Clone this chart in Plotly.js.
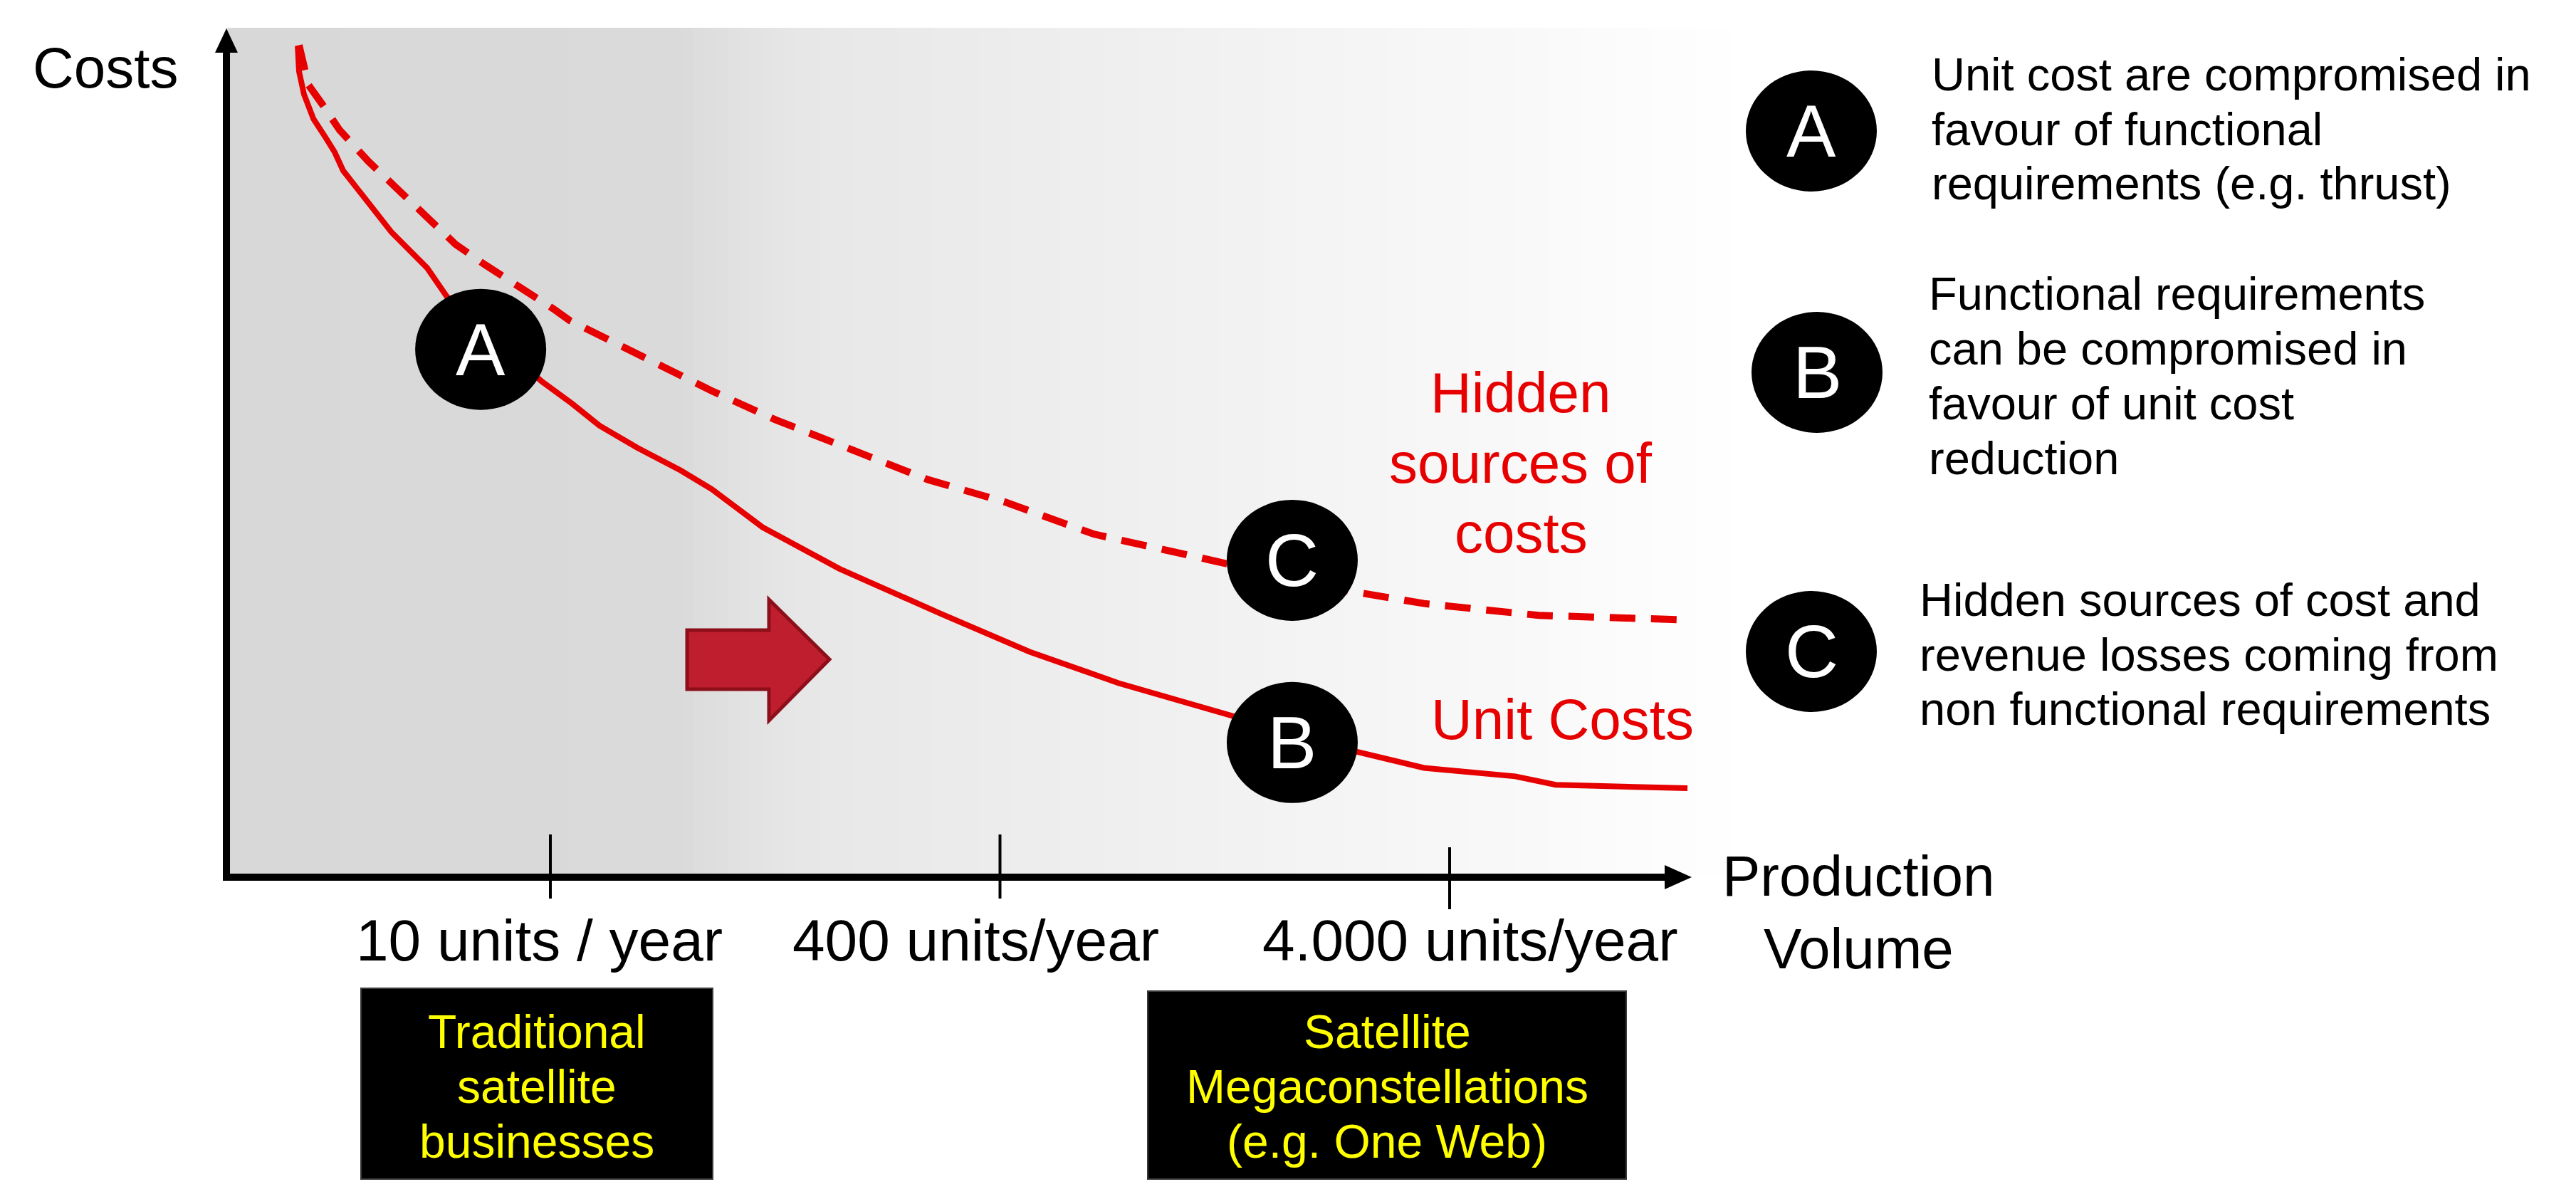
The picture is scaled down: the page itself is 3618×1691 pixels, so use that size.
<!DOCTYPE html>
<html>
<head>
<meta charset="utf-8">
<script src="https://cdn.plot.ly/plotly-3.0.1.min.js"></script>
<style>
  body { margin: 0; background: #fff; }
  #chart { width: 3618px; height: 1691px; }
</style>
</head>
<body>
<div id="chart"></div>
<script>
// schematic production volume axis: 1, 2, 3 are the labelled volumes
const tickPos = [1, 2, 3];
const tickLabels = ['10 units / year', '400 units/year', '4.000 units/year'];

// unit costs (solid)
const unitX = [0.438, 0.441, 0.452, 0.473, 0.500, 0.520, 0.539, 0.579, 0.647, 0.726, 0.770,
               0.981, 1.048, 1.109, 1.193, 1.290, 1.359, 1.472, 1.643, 1.868, 2.066, 2.264,
               2.504, 2.794, 2.943, 3.146, 3.236, 3.529];
const unitY = [98.1, 95.1, 92.4, 89.5, 87.3, 85.6, 83.4, 80.6, 76.1, 71.9, 68.5,
               58.5, 55.9, 53.3, 50.7, 48.0, 45.8, 41.3, 36.4, 31.1, 26.6, 22.9,
               19.2, 14.8, 12.9, 11.9, 10.9, 10.5];

// unit costs + hidden sources of costs (dashed)
const hiddenX = [0.441, 0.462, 0.493, 0.531, 0.595, 0.663, 0.726, 0.789, 0.857, 0.932, 1.006,
                 1.043, 1.279, 1.359, 1.500, 1.643, 1.841, 2.010, 2.208, 2.462, 2.774, 2.943,
                 3.198, 3.508];
const hiddenY = [98.2, 93.5, 91.2, 88.2, 84.5, 81.1, 78.1, 74.7, 72.2, 69.7, 67.1,
                 65.7, 59.4, 57.4, 54.0, 51.0, 46.9, 44.3, 40.5, 37.5, 33.8, 32.3,
                 30.9, 30.4];

const calloutLabels = ['A', 'C', 'B'];
const seriesLabels = [['Hidden', 'sources of', 'costs'], ['Unit Costs']];
const businessBoxes = [['Traditional', 'satellite', 'businesses'],
                       ['Satellite', 'Megaconstellations', '(e.g. One Web)']];
const notes = [
  ['Unit cost are compromised in', 'favour of functional', 'requirements (e.g. thrust)'],
  ['Functional requirements', 'can be compromised in', 'favour of unit cost', 'reduction'],
  ['Hidden sources of cost and', 'revenue losses coming from', 'non functional requirements']
];

// ---- layout helpers (pixel -> paper) ----
const FONT = 'Liberation Sans, Arial, Helvetica, sans-serif';
const RED = '#e60000';
const L = 318, R = 2400, T = 30, B = 1232;
const px = x => (x - L) / (R - L);
const py = y => (B - y) / (B - T);

const shapes = [];
const annotations = [];

function label(text, x, y, size, color, anchor) {
  annotations.push({
    xref: 'paper', yref: 'paper', x: px(x), y: py(y), text: text,
    showarrow: false, xanchor: anchor || 'center', yanchor: 'middle',
    font: {family: FONT, size: size, color: color || '#000'}
  });
}

// grey background fading to white
const stops = [[318, 216], [950, 218], [1020, 224], [1120, 231], [1400, 236],
               [1800, 243], [2150, 249], [2450, 255]];
function greyAt(x) {
  for (let i = 1; i < stops.length; i++) {
    if (x <= stops[i][0]) {
      const a = stops[i - 1], b = stops[i];
      return Math.round(a[1] + (b[1] - a[1]) * (x - a[0]) / (b[0] - a[0]));
    }
  }
  return 255;
}
for (let x = 318; x < 2450; x += 16) {
  const g = greyAt(x + 8);
  shapes.push({type: 'rect', xref: 'paper', yref: 'paper', layer: 'below',
    x0: px(x), x1: px(x + 17), y0: py(1232), y1: py(39),
    line: {width: 0}, fillcolor: `rgb(${g},${g},${g})`});
}

// axes with arrow heads
shapes.push({type: 'line', xref: 'paper', yref: 'paper', x0: px(318), x1: px(318),
  y0: py(1237), y1: py(68), line: {color: '#000', width: 10}});
shapes.push({type: 'path', xref: 'paper', yref: 'paper',
  path: `M ${px(302)} ${py(74)} L ${px(318)} ${py(40)} L ${px(334)} ${py(74)} Z`,
  fillcolor: '#000', line: {width: 0}});
shapes.push({type: 'line', xref: 'paper', yref: 'paper', x0: px(313), x1: px(2342),
  y0: py(1232), y1: py(1232), line: {color: '#000', width: 10}});
shapes.push({type: 'path', xref: 'paper', yref: 'paper',
  path: `M ${px(2338)} ${py(1215)} L ${px(2376)} ${py(1232)} L ${px(2338)} ${py(1249)} Z`,
  fillcolor: '#000', line: {width: 0}});

// tick marks across the x axis
const tickSpan = [[1172, 1262], [1172, 1262], [1190, 1277]];
const tickShift = [-16, -34, 29];
tickPos.forEach((t, i) => {
  shapes.push({type: 'line', xref: 'x', yref: 'paper', x0: t, x1: t,
    y0: py(tickSpan[i][1]), y1: py(tickSpan[i][0]), line: {color: '#000', width: 4}});
  annotations.push({xref: 'x', yref: 'paper', x: t, y: py(1320), xshift: tickShift[i],
    text: tickLabels[i], showarrow: false, xanchor: 'center', yanchor: 'middle',
    font: {family: FONT, size: 82, color: '#000'}});
});

// axis titles
label('Costs', 148, 96, 80);
label('Production', 2610, 1230, 80);
label('Volume', 2610, 1332, 80);

// red arrow
const arrowPts = [[965, 885], [1080, 885], [1080, 842], [1165, 926], [1080, 1012], [1080, 968], [965, 968]];
shapes.push({type: 'path', xref: 'paper', yref: 'paper',
  path: 'M ' + arrowPts.map(p => `${px(p[0])} ${py(p[1])}`).join(' L ') + ' Z',
  fillcolor: '#be1e2d', line: {color: '#8c0f1a', width: 5}});

// callouts on the curves
const calloutAt = [[0.845, 62.3], [2.650, 37.4], [2.650, 15.9]];
calloutLabels.forEach((c, i) => {
  shapes.push({type: 'circle', xref: 'x', yref: 'y', xsizemode: 'pixel', ysizemode: 'pixel',
    xanchor: calloutAt[i][0], yanchor: calloutAt[i][1], x0: -92, x1: 92, y0: -85, y1: 85,
    fillcolor: '#000', line: {width: 0}});
  annotations.push({xref: 'x', yref: 'y', x: calloutAt[i][0], y: calloutAt[i][1], text: c,
    showarrow: false, xanchor: 'center', yanchor: 'middle',
    font: {family: FONT, size: 104, color: '#fff'}});
});

// series labels
seriesLabels[0].forEach((t, i) => label(t, 2136, 552 + i * 98, 80, RED));
label(seriesLabels[1][0], 2194, 1011, 80, RED);

// business boxes under the axis
const boxRects = [[507, 1388, 1001, 1656], [1612, 1392, 2284, 1656]];
businessBoxes.forEach((lines, i) => {
  const b = boxRects[i];
  shapes.push({type: 'rect', xref: 'paper', yref: 'paper',
    x0: px(b[0]), x1: px(b[2]), y0: py(b[3]), y1: py(b[1]),
    fillcolor: '#000', line: {color: '#3a3a3a', width: 2}});
  const cx = (b[0] + b[2]) / 2;
  lines.forEach((t, j) => label(t, cx, 1449 + j * 77, 66, '#ffff00'));
});

// notes on the right
const noteCircle = [[2544, 184], [2552, 523], [2544, 915]];
const noteText = [[2711, 105, 76], [2707, 412, 77], [2694, 842, 77]];
const noteKeys = ['A', 'B', 'C'];
notes.forEach((lines, i) => {
  const c = noteCircle[i];
  shapes.push({type: 'circle', xref: 'paper', yref: 'paper',
    x0: px(c[0] - 92), x1: px(c[0] + 92), y0: py(c[1] + 85), y1: py(c[1] - 85),
    fillcolor: '#000', line: {width: 0}});
  label(noteKeys[i], c[0], c[1], 104, '#fff');
  const n = noteText[i];
  lines.forEach((t, j) => label(t, n[0], n[1] + j * n[2], 65, '#000', 'left'));
});

const traces = [
  {x: hiddenX, y: hiddenY, type: 'scatter', mode: 'lines', name: 'Hidden sources of costs',
   line: {color: RED, width: 10, dash: '36px,22px'}, hoverinfo: 'skip'},
  {x: unitX, y: unitY, type: 'scatter', mode: 'lines', name: 'Unit Costs',
   line: {color: RED, width: 8}, hoverinfo: 'skip'}
];

const layout = {
  width: 3618, height: 1691,
  margin: {l: L, r: 3618 - R, t: T, b: 1691 - B, pad: 0},
  paper_bgcolor: '#fff', plot_bgcolor: 'rgba(0,0,0,0)',
  showlegend: false,
  xaxis: {range: [0.2795, 3.5764], visible: false, fixedrange: true},
  yaxis: {range: [0, 101.008], visible: false, fixedrange: true},
  shapes: shapes,
  annotations: annotations
};

Plotly.newPlot('chart', traces, layout, {displayModeBar: false, staticPlot: true});
</script>
</body>
</html>
